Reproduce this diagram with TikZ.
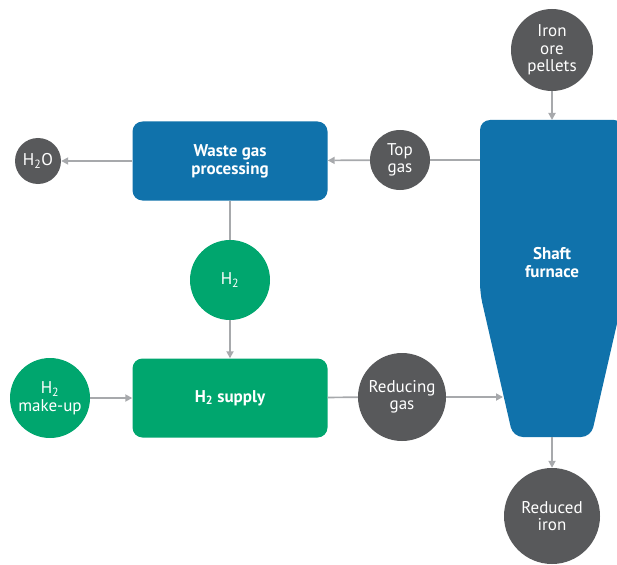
\documentclass[tikz,border=0pt]{standalone}
\usepackage{fontspec}
\setmainfont{PT Sans}
\usepackage{xcolor}
\usetikzlibrary{arrows.meta}

\definecolor{procblue}{RGB}{16,114,171}
\definecolor{hgreen}{RGB}{0,166,110}
\definecolor{darkgrey}{RGB}{88,89,91}
\definecolor{linegrey}{RGB}{167,169,172}

\begin{document}
\begin{tikzpicture}[x=1pt, y=-1pt,
unit/.style={rounded corners=10pt, minimum width=195pt, minimum height=79pt, align=center, text=white, font=\fontsize{17}{18}\selectfont\bfseries},
flow/.style={circle, inner sep=0pt, align=center, text=white, font=\fontsize{17}{17.5}\selectfont},
line/.style={-{Triangle[length=7pt,width=7pt]}, line width=1.7pt, draw=linegrey},
plain/.style={line width=1.7pt, draw=linegrey}
]
\useasboundingbox (0,0) rectangle (617,564);
% shaft furnace
\begin{scope}
\clip (0,0) rectangle (617,564);
\fill[procblue, rounded corners=10pt] (480,293) -- (480,120) -- (624,120) -- (624,293) -- (591,437) -- (513,437) -- cycle;
\end{scope}
\node[text=white, align=center, font=\fontsize{17}{18}\selectfont\bfseries] (furnace) at (552,263) {Shaft\\furnace};
\coordinate (ftop) at (552,120);
\coordinate (fbot) at (552,437);
\coordinate (fleft) at (480,160);
\coordinate (fin) at (503,397);
% boxes
\node[unit, fill=procblue] (waste) at (230,161) {Waste gas\\processing};
\node[unit, fill=hgreen] (supply) at (230,398) {H\textsubscript{2} supply};
% streams
\node[flow, fill=darkgrey, minimum size=46pt] (water) at (38,161) {H\textsubscript{2}O};
\node[flow, fill=darkgrey, minimum size=60pt] (topgas) at (400,160) {Top\\gas};
\node[flow, fill=darkgrey, minimum size=82pt] (ore) at (552,50) {Iron\\ore\\pellets};
\node[flow, fill=darkgrey, minimum size=96pt] (iron) at (552,516) {Reduced\\iron};
\node[flow, fill=darkgrey, minimum size=88pt] (redgas) at (402,397) {Reducing\\gas};
\node[flow, fill=hgreen, minimum size=80pt] (hydro) at (230,280) {H\textsubscript{2}};
\node[flow, fill=hgreen, minimum size=80pt] (makeup) at (50,398) {H\textsubscript{2}\\make-up};
% connections
\draw[plain] (fleft) -- (topgas);
\draw[line] (topgas) -- (waste);
\draw[line] (waste) -- (water);
\draw[plain] (waste) -- (hydro);
\draw[line] (hydro) -- (supply);
\draw[line] (makeup) -- (supply);
\draw[plain] (supply) -- (redgas);
\draw[line] (redgas) -- (fin);
\draw[line] (ore) -- (ftop);
\draw[line] (fbot) -- (iron);
\end{tikzpicture}
\end{document}
